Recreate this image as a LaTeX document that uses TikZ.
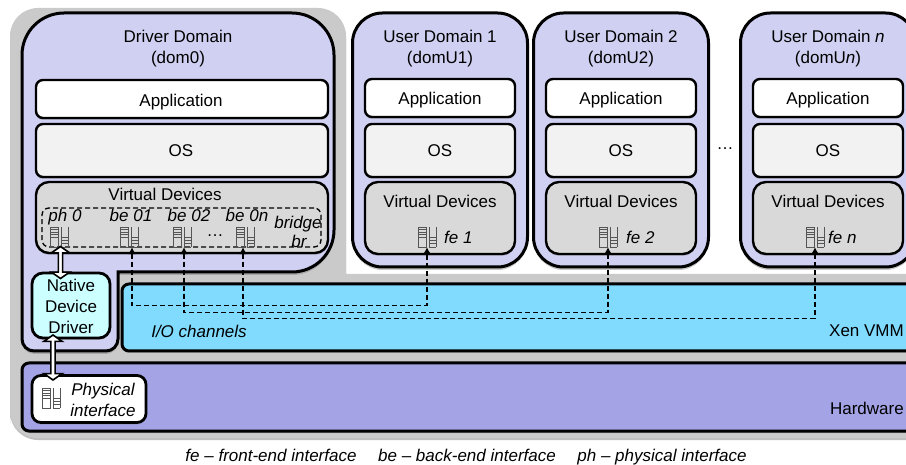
\documentclass[tikz,border=0pt]{standalone}
\usepackage{fontspec}
\setmainfont{Liberation Sans}
\usepackage{xcolor}
\usetikzlibrary{arrows.meta,calc,shadows,shapes.arrows}
\definecolor{domfill}{HTML}{D0D0F2}
\definecolor{devfill}{HTML}{D9D9D9}
\definecolor{osfill}{HTML}{F2F2F2}
\definecolor{xenfill}{HTML}{80DBFF}
\definecolor{hwfill}{HTML}{A3A3E6}
\definecolor{drvfill}{HTML}{CCFFFF}
\definecolor{backfill}{HTML}{CACACA}
\definecolor{iconline}{HTML}{555555}
\tikzset{
    label text/.style={inner sep=0pt,align=center,font=\fontsize{17}{21}\selectfont},
    tag text/.style={label text,font=\fontsize{17}{20.7}\selectfont\itshape},
    domainbox/.style={draw,line width=3pt,rounded corners=30pt,fill=domfill,
        drop shadow={opacity=.45,shadow xshift=0pt,shadow yshift=-3pt}},
    panel/.style={draw,line width=2.4pt,rounded corners=7pt,inner sep=0pt,outer sep=0pt,
        drop shadow={opacity=.35,shadow xshift=0pt,shadow yshift=-2pt}},
    devpanel/.style={panel,rounded corners=13pt,fill=devfill},
    iface/.style={inner sep=0pt,minimum width=19pt,minimum height=20pt},
    ifaceicon/.pic={
        \draw[iconline,line width=.8pt] (-9,-10) rectangle (-1,10);
        \draw[iconline,line width=.8pt] (2,-10) -- (2,10) (9,-10) -- (9,10);
        \foreach \y in {-7.5,-5,-2.5,0} \draw[iconline,line width=.8pt] (-9,\y) -- (-1,\y);
        \foreach \y in {0,3,6,10} \draw[iconline,line width=.8pt] (2,\y) -- (9,\y);
    },
    devlink/.style={{Latex[length=7pt,width=8pt]}-{Latex[length=7pt,width=8pt]},dash pattern=on 5pt off 3pt,line width=1.3pt},
    bigarrow/.style={draw,line width=1.6pt,fill=white,double arrow,rotate=90,inner sep=0pt,
        minimum width=18pt,double arrow head extend=2.5pt,double arrow tip angle=110},
}
\begin{document}
\begin{tikzpicture}[x=1pt,y=-1pt]
    \useasboundingbox (0,0) rectangle (906,465);
    \clip (0,0) rectangle (906,465);
    % back plate
    \fill[backfill,drop shadow={opacity=.5,shadow xshift=0pt,shadow yshift=-2pt}] (10,438) [rounded corners=28pt] -- (10,8) -- (346,8) [sharp corners] -- (346,274)
        [rounded corners=14pt] -- (930,274) -- (930,438) [rounded corners=28pt] -- (10,438) -- cycle;
    % driver domain
    \draw[domainbox] (22,200) [rounded corners=42pt] -- (22,13) -- (334,13) -- (334,272)
        [sharp corners] -- (118,272) [rounded corners=12pt] -- (118,351) -- (22,351) -- (22,200) -- cycle;
    \node (drvtitle) [label text] at (178,49) {Driver Domain\\(dom0)};
    \node (drvapp) [panel,fill=white,minimum width=292pt,minimum height=38pt] at (182,99) {};
    \node (drvos) [panel,fill=osfill,minimum width=292pt,minimum height=53pt] at (182,150.5) {};
    \node (drvdev) [devpanel,minimum width=292pt,minimum height=71pt] at (182,217.5) {};
    \node (drvapptext) [label text] at (181,102) {Application};
    \node (drvostext) [label text] at (181,151) {OS};
    \node (drvdevtext) [label text] at (165,194) {Virtual Devices};
    \node (bridgebox) [draw,dash pattern=on 5pt off 3pt,line width=1.3pt,rounded corners=7pt,
        inner sep=0pt,minimum width=279pt,minimum height=39pt] at (181.5,227.5) {};
    \node (ph0text) [tag text] at (65,217) {ph 0};
    \node (be01text) [tag text] at (131,215) {be 01};
    \node (be02text) [tag text] at (189,215) {be 02};
    \node (be0ntext) [tag text] at (247,215) {be 0n};
    \node (bridgetext) [tag text] at (298,224) {bridge};
    \node (brtext) [tag text] at (299,241) {br};
    \node (be0dots) [label text] at (215,236) {…};
    \foreach \dev/\x in {ph0/59,be01/129,be02/182,be0n/245} {
        \node (\dev) [iface] at (\x,237) {};
        \pic at (\dev) {ifaceicon};
    }
    % user domains
    \foreach \id/\cx/\title/\subtitle/\feshift/\fetext in {
        1/440/{User Domain 1}/{(domU1)}/4/{fe 1},
        2/621/{User Domain 2}/{(domU2)}/5/{fe 2},
        n/828/{User Domain \textit{n}}/{(domU\textit{n})}/0/{fe n}} {
        \node (dom\id) [domainbox,inner sep=0pt,minimum width=175pt,minimum height=254pt] at (\cx,140) {};
        \node (title\id) [label text] at (\cx,49) {\title\\\subtitle};
        \node (app\id) [panel,fill=white,minimum width=150pt,minimum height=38pt] at (\cx,98) {};
        \node (apptext\id) [label text] at (\cx,100) {Application};
        \node (os\id) [panel,fill=osfill,minimum width=150pt,minimum height=53pt] at (\cx,150.5) {};
        \node (ostext\id) [label text] at (\cx,151) {OS};
        \node (dev\id) [devpanel,minimum width=150pt,minimum height=72pt] at (\cx,218) {};
        \node (devtext\id) [label text] at (\cx,201) {Virtual Devices};
        \node (fe\id) [iface] at (\cx-13,237) {};
        \pic at (fe\id) {ifaceicon};
        \node (fetext\id) [tag text,anchor=west] at (\cx+\feshift,237) {\fetext};
    }
    \node (domdots) [label text] at (725,149) {…};
    % xen and hardware
    \node (xen) [panel,line width=3pt,fill=xenfill,anchor=north west,minimum width=800pt,minimum height=67pt] at (122,284) {};
    \node (iotext) [tag text] at (199,331) {I/O channels};
    \node (xentext) [label text,anchor=east] at (904,331) {Xen VMM};
    \node (hw) [panel,line width=3pt,fill=hwfill,anchor=north west,minimum width=900pt,minimum height=68pt] at (22,363) {};
    \node (hwtext) [label text,anchor=east] at (904,408) {Hardware};
    \node (driver) [panel,line width=2.8pt,rounded corners=11pt,fill=drvfill,minimum width=78pt,minimum height=65pt] at (71,305.5) {};
    \node (drivertext) [label text] at (71,306.5) {Native\\Device\\Driver};
    \node (phys) [panel,line width=2.8pt,rounded corners=9pt,fill=white,minimum width=114pt,minimum height=47pt] at (89,399) {};
    \node (physicon) [iface] at (51,398) {};
    \pic at (physicon) {ifaceicon};
    \node (phystext) [tag text] at (103,400) {Physical\\interface};
    % links
    \node (ph0link) [bigarrow,minimum height=32pt] at (60.5,262.5) {};
    \node (hwlink) [bigarrow,minimum height=45pt] at (53,357.5) {};
    \foreach \be/\shift/\drop/\fe in {be01/3/58/fe1,be02/2/65/fe2,be0n/-2/71/fen}
        \draw[devlink] ([xshift=\shift pt]\be.south) -- ++(0,\drop) -| (\fe.south);
    % legend
    \node (fenote) [tag text,anchor=base] at (271,461.5) {fe – front-end interface};
    \node (benote) [tag text,anchor=base] at (467,461.5) {be – back-end interface};
    \node (phnote) [tag text,anchor=base] at (662,461.5) {ph – physical interface};
\end{tikzpicture}
\end{document}
